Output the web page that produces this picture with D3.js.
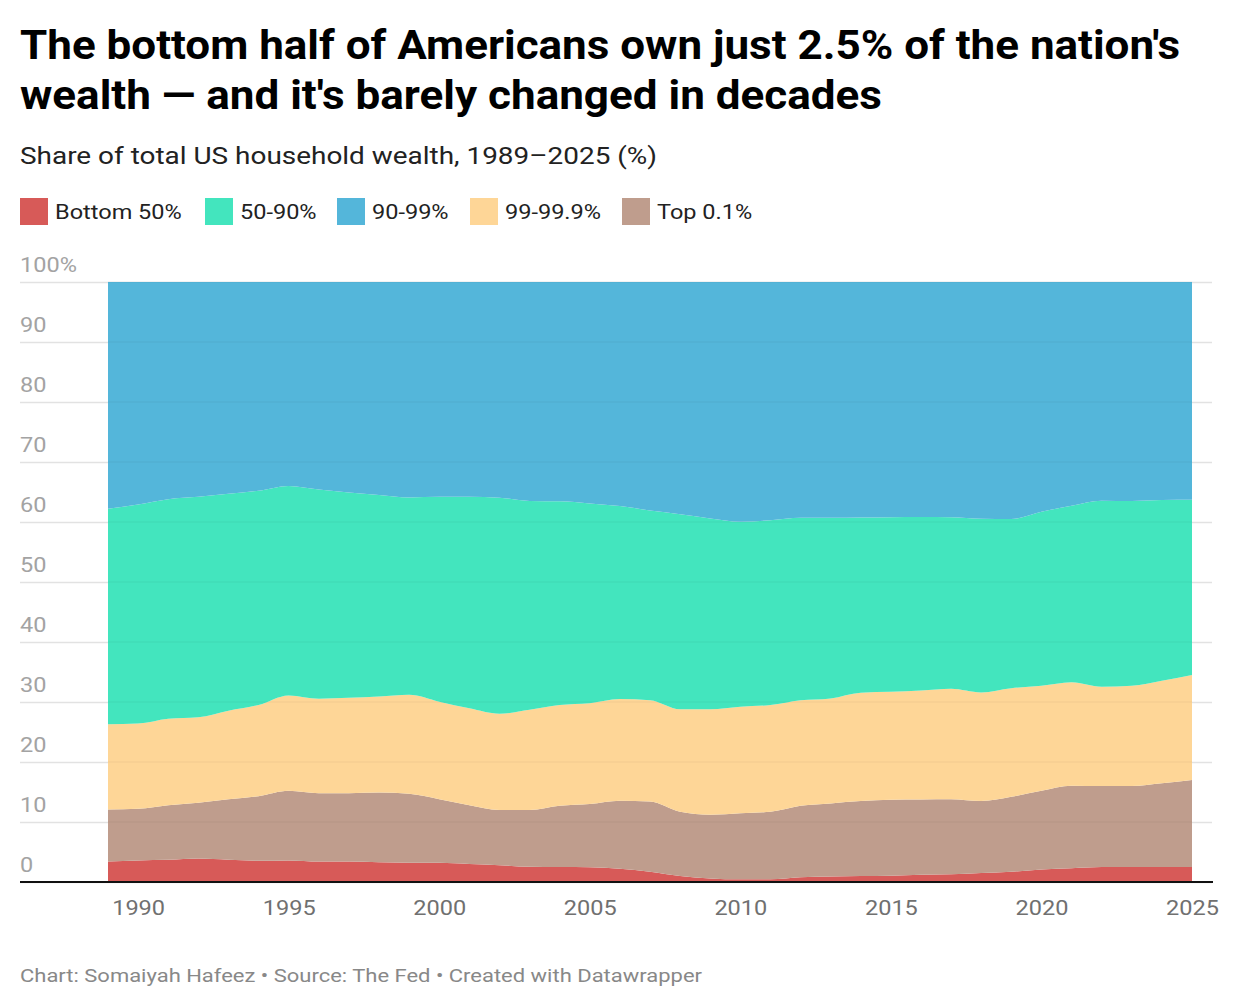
<!DOCTYPE html>
<html>
<head>
  <meta charset="utf-8">
  <style>
    body { margin: 0; background: #fff; font-family: Roboto, "Noto Sans", sans-serif; }
    svg text { font-family: Roboto, "Noto Sans", sans-serif; }
    .title { font-size: 40px; font-weight: 700; fill: #000; }
    .subtitle { font-size: 24px; fill: #222; }
    .legend text { font-size: 21px; fill: #222; }
    .y-axis text { font-size: 21px; fill: #a3a3a3; }
    .x-axis text { font-size: 21px; fill: #707070; }
    .footer { font-size: 19px; fill: #888; }
  </style>
</head>
<body>
<script src="https://cdnjs.cloudflare.com/ajax/libs/d3/7.8.5/d3.min.js"></script>
<script>
  // share of total US household wealth (%)
  var years = d3.range(1989, 2026);

  var bottom50 = [3.4, 3.6, 3.7, 3.9, 3.7, 3.55, 3.6, 3.4, 3.4, 3.3, 3.2, 3.2, 3.0, 2.8, 2.55, 2.5, 2.45, 2.2, 1.7, 1.0,
                  0.6, 0.45, 0.45, 0.8, 0.9, 1.0, 1.05, 1.2, 1.3, 1.5, 1.7, 2.1, 2.3, 2.5, 2.5, 2.5, 2.5];
  var top01    = [8.7, 8.6, 9.1, 9.3, 10.1, 10.75, 11.6, 11.4, 11.4, 11.6, 11.5, 10.6, 9.8, 9.2, 9.45, 10.2, 10.55, 11.35, 11.7, 10.7,
                  10.6, 11.0, 11.25, 11.9, 12.2, 12.5, 12.65, 12.55, 12.5, 12.0, 12.5, 13.1, 13.75, 13.5, 13.5, 13.95, 14.5];
  var p99_999  = [14.2, 14.2, 14.4, 14.25, 14.75, 15.2, 15.9, 15.75, 15.9, 16.0, 16.5, 16.25, 16.15, 16.05, 16.7, 16.8, 16.8, 16.95, 16.9, 17.1,
                  17.6, 17.75, 17.8, 17.6, 17.5, 18.05, 18.0, 18.15, 18.4, 18.1, 18.1, 17.5, 17.25, 16.55, 16.7, 17.1, 17.5];
  var p50_90   = [35.9, 36.5, 36.6, 36.75, 36.15, 35.7, 34.9, 34.85, 34.2, 33.6, 32.9, 34.15, 35.25, 36.0, 34.8, 33.95, 33.3, 32.15, 31.6, 32.5,
                  31.8, 30.85, 30.8, 30.4, 30.1, 29.2, 29.1, 28.95, 28.6, 28.95, 28.2, 29.0, 29.4, 31.0, 30.8, 30.1, 29.2];
  var p90_99   = [37.8, 37.1, 36.2, 35.8, 35.3, 34.8, 34.0, 34.6, 35.1, 35.5, 35.9, 35.8, 35.8, 35.95, 36.5, 36.55, 36.9, 37.35, 38.1, 38.7,
                  39.4, 39.95, 39.7, 39.3, 39.3, 39.25, 39.2, 39.15, 39.2, 39.45, 39.5, 38.3, 37.3, 36.45, 36.5, 36.35, 36.3];

  var legendLabels = ["Bottom 50%", "50-90%", "90-99%", "99-99.9%", "Top 0.1%"];
  var legendKeys   = ["bottom50", "p50_90", "p90_99", "p99_999", "top01"];
  var stackKeys    = ["bottom50", "top01", "p99_999", "p50_90", "p90_99"];   // bottom to top
  var yTicks = [0, 10, 20, 30, 40, 50, 60, 70, 80, 90, 100];
  var xTicks = [1990, 1995, 2000, 2005, 2010, 2015, 2020, 2025];

  var colors = {
    bottom50: "#d75a58",
    p50_90:   "#43e5be",
    p90_99:   "#54b6da",
    p99_999:  "#fed697",
    top01:    "#bf9d8d"
  };

  var rows = years.map(function (yr, i) {
    return { year: yr, bottom50: bottom50[i], top01: top01[i], p99_999: p99_999[i], p50_90: p50_90[i], p90_99: p90_99[i] };
  });

  var W = 1240, H = 1008;
  var gridLeft = 20, gridRight = 1212;
  var stretch = 1.12;   // original text renders a bit wider than local Roboto

  // widen a text node's glyphs to match the original
  function widen(sel) {
    sel.each(function () {
      var w = this.getComputedTextLength();
      d3.select(this).attr("textLength", w * stretch).attr("lengthAdjust", "spacingAndGlyphs");
    });
  }

  var svg = d3.select("body").append("svg")
      .attr("width", W)
      .attr("height", H);

  // header
  svg.append("text").attr("class", "title").attr("x", 20).attr("y", 59)
      .attr("textLength", 1160).attr("lengthAdjust", "spacingAndGlyphs")
      .text("The bottom half of Americans own just 2.5% of the nation's");
  svg.append("text").attr("class", "title").attr("x", 20).attr("y", 109)
      .attr("textLength", 862).attr("lengthAdjust", "spacingAndGlyphs")
      .text("wealth \u2014 and it's barely changed in decades");
  svg.append("text").attr("class", "subtitle").attr("x", 20).attr("y", 164)
      .attr("textLength", 637).attr("lengthAdjust", "spacingAndGlyphs")
      .text("Share of total US household wealth, 1989\u20132025 (%)");

  // legend
  var legendX = [20, 205, 337, 470, 622];
  var legend = svg.append("g").attr("class", "legend");
  legendKeys.forEach(function (k, i) {
    var g = legend.append("g").attr("transform", "translate(" + legendX[i] + ",198)");
    g.append("rect").attr("width", 28).attr("height", 27).attr("fill", colors[k]);
    g.append("text").attr("x", 35).attr("y", 21).text(legendLabels[i]).call(widen);
  });

  // scales
  var x = d3.scaleLinear().domain([1989, 2025]).range([108, 1192]);
  var y = d3.scaleLinear().domain([0, 100]).range([882, 282]);

  // y axis + gridlines
  var yAxis = d3.axisLeft(y)
      .tickValues(yTicks)
      .tickSize(-(gridRight - gridLeft))
      .tickFormat(function (d) { return d === 100 ? "100%" : d; });

  var ya = svg.append("g")
      .attr("class", "y-axis")
      .attr("transform", "translate(" + gridLeft + ",0)")
      .call(yAxis);
  ya.select(".domain").remove();
  ya.selectAll(".tick line").attr("stroke", "#e2e2e2").attr("stroke-width", 1.5);
  ya.selectAll(".tick text")
      .attr("x", 0)
      .attr("dy", "-0.5em")
      .style("text-anchor", "start")
      .call(widen);

  // stacked areas
  var stack = d3.stack().keys(stackKeys);
  var series = stack(rows);

  var area = d3.area()
      .curve(d3.curveMonotoneX)
      .x(function (d) { return x(d.data.year); })
      .y0(function (d) { return y(d[0]); })
      .y1(function (d) { return y(d[1]); });

  svg.append("g").selectAll("path")
      .data(series)
    .enter().append("path")
      .attr("d", area)
      .attr("fill", function (d) { return colors[d.key]; });

  // faint gridlines showing through the areas
  svg.append("g").selectAll("line")
      .data(yTicks.filter(function (d) { return d > 0; }))
    .enter().append("line")
      .attr("x1", x(1989)).attr("x2", x(2025))
      .attr("y1", function (d) { return y(d); })
      .attr("y2", function (d) { return y(d); })
      .attr("stroke", "rgba(0,0,0,0.035)")
      .attr("stroke-width", 1.5);

  // x axis
  var xAxis = d3.axisBottom(x)
      .tickValues(xTicks)
      .tickSize(0)
      .tickPadding(18)
      .tickFormat(d3.format("d"));

  var xa = svg.append("g")
      .attr("class", "x-axis")
      .attr("transform", "translate(0," + y(0) + ")")
      .call(xAxis);
  xa.select(".domain").remove();
  xa.selectAll(".tick text").call(widen);

  svg.append("line")
      .attr("x1", gridLeft).attr("x2", gridRight + 1)
      .attr("y1", y(0)).attr("y2", y(0))
      .attr("stroke", "#111")
      .attr("stroke-width", 2);

  // footer
  svg.append("text").attr("class", "footer").attr("x", 20).attr("y", 982)
      .attr("textLength", 682).attr("lengthAdjust", "spacingAndGlyphs")
      .text("Chart: Somaiyah Hafeez \u2022 Source: The Fed \u2022 Created with Datawrapper");
</script>
</body>
</html>
